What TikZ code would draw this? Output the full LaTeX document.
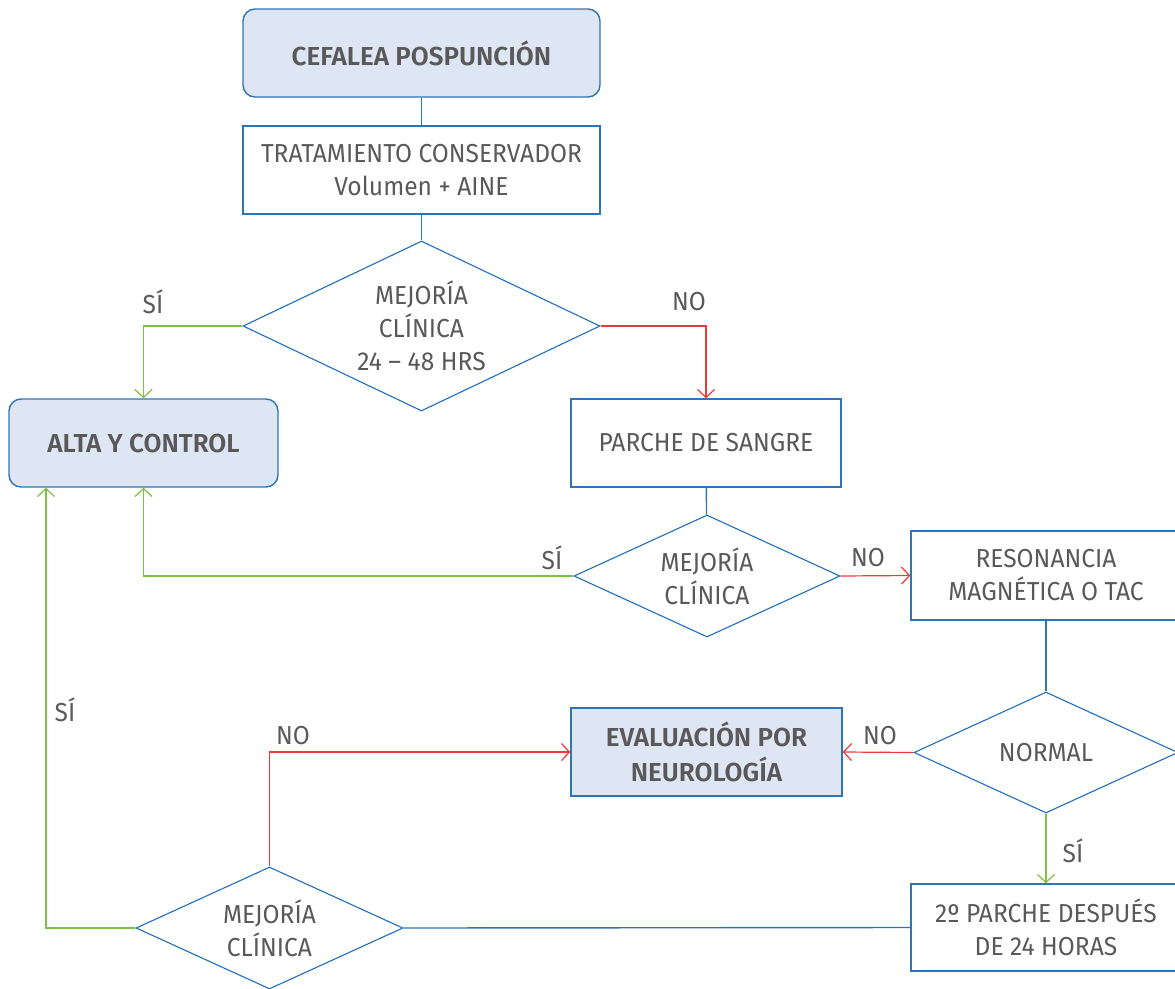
\documentclass[tikz,border=0pt]{standalone}
\usepackage{fontspec}
\setmainfont{Fira Sans}[FakeStretch=0.945, BoldFont=* SemiBold, BoldFeatures={FakeStretch=1.0}]
\usetikzlibrary{shapes.geometric,arrows.meta}
\definecolor{boxblue}{HTML}{2E75B6}
\definecolor{lineblue}{HTML}{1F6FC0}
\definecolor{fillblue}{HTML}{DEE5F3}
\definecolor{yesgreen}{HTML}{7CC142}
\definecolor{nored}{HTML}{EA3A3A}
\definecolor{txt}{HTML}{595959}

\begin{document}
\begin{tikzpicture}[x=1pt,y=-1pt,
  every node/.style={font=\fontsize{26}{33}\selectfont, text=txt},
  box/.style={draw=boxblue, line width=1.4pt, inner sep=0pt, align=center},
  keybox/.style={box, fill=fillblue, font=\fontsize{26}{35}\selectfont\bfseries},
  roundbox/.style={keybox, rounded corners=12pt},
  decision/.style={diamond, draw=lineblue, line width=1.1pt, inner sep=0pt, align=center},
  conn/.style={draw=boxblue, line width=1.4pt},
  yesline/.style={draw=yesgreen, line width=1.2pt, -{Straight Barb[length=8pt,width=17pt]}},
  noline/.style={draw=nored, line width=1.2pt, -{Straight Barb[length=8pt,width=17pt]}},
  tag/.style={inner sep=0pt}
]
\useasboundingbox (0,0) rectangle (1175,988);

% process boxes
\node[roundbox, minimum width=357pt, minimum height=88pt] (start) at (421.5,53) {CEFALEA POSPUNCIÓN};
\node[box, minimum width=357pt, minimum height=88pt] (trat) at (421.5,170) {TRATAMIENTO CONSERVADOR\\Volumen + AINE};
\node[roundbox, minimum width=269pt, minimum height=88pt] (alta) at (143.5,443) {ALTA Y CONTROL};
\node[box, minimum width=270pt, minimum height=88pt] (parche) at (706,443) {PARCHE DE SANGRE};
\node[box, minimum width=270pt, minimum height=89pt] (reso) at (1046,575.5) {RESONANCIA\\MAGNÉTICA O TAC};
\node[keybox, minimum width=271pt, minimum height=88pt] (eval) at (706.5,752) {EVALUACIÓN POR\\NEUROLOGÍA};
\node[box, minimum width=270pt, minimum height=87pt] (parche2) at (1046,927.5) {2º PARCHE DESPUÉS\\DE 24 HORAS};

% decisions
\node[decision, shape aspect=2.1, minimum width=357pt, minimum height=170pt] (d1) at (421.5,326) {MEJORÍA\\CLÍNICA\\24 – 48 HRS};
\node[decision, shape aspect=2.18, minimum width=266pt, minimum height=122pt] (d2) at (707,576) {MEJORÍA\\CLÍNICA};
\node[decision, shape aspect=2.18, minimum width=264pt, minimum height=121pt] (d3) at (1046,752.5) {NORMAL};
\node[decision, shape aspect=2.18, minimum width=267pt, minimum height=122pt] (d4) at (269.5,928) {MEJORÍA\\CLÍNICA};

% connectors
\draw[conn] (start) -- (trat);
\draw[conn] (trat) -- (d1);
\draw[yesline] (d1.west) -| (alta.north);
\draw[noline] (d1.east) -| (parche.north);
\draw[conn] (parche) -- (d2);
\draw[yesline] (d2.west) -| (alta.south);
\draw[noline] (d2.east) -- (reso.west);
\draw[conn] (reso) -- (d3);
\draw[noline] (d3.west) -- (eval.east);
\draw[yesline] (d3.south) -- (parche2.north);
\draw[conn] (parche2.west) -- (d4.east);
\coordinate (back) at (46,928);
\draw[yesline] (d4.west) -- (back) -- (back |- alta.south);
\draw[noline] (d4.north) |- (eval.west);

% branch labels
\node[tag] (y1) at (153,302) {SÍ};
\node[tag] (n1) at (689,302) {NO};
\node[tag] (y2) at (552,558) {SÍ};
\node[tag] (n2) at (868,558) {NO};
\node[tag] (n3) at (880,736) {NO};
\node[tag] (y3) at (1073,851) {SÍ};
\node[tag] (y4) at (65,710) {SÍ};
\node[tag] (n4) at (293,736) {NO};
\end{tikzpicture}
\end{document}
